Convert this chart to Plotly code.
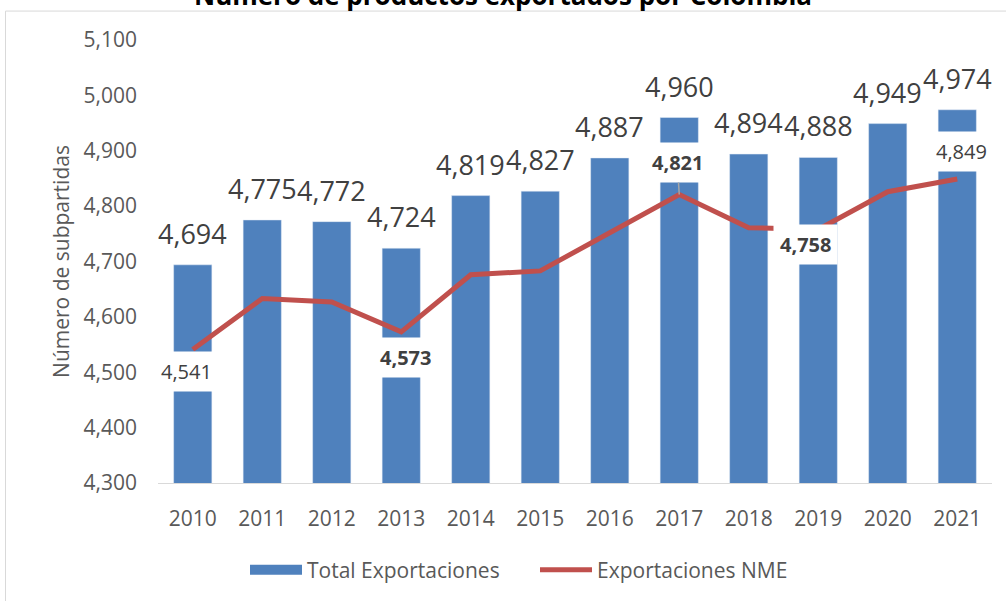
import plotly.graph_objects as go

years = ["2010", "2011", "2012", "2013", "2014", "2015", "2016", "2017", "2018", "2019", "2020", "2021"]
total = [4694, 4775, 4772, 4724, 4819, 4827, 4887, 4960, 4894, 4888, 4949, 4974]
nme = [4541, 4633, 4627, 4573, 4676, 4683, 4752, 4821, 4761, 4758, 4826, 4849]
# which NME points are labelled: (index, bold, vertical offset px, horizontal offset px)
nme_labels = [(0, False, -22, -6), (3, True, -26, 4), (7, True, 32, -2), (9, True, -15, -13), (11, False, 27, 4)]

BLUE = "#4F81BD"
RED = "#C0504D"
FONT = "Open Sans"
GRAY = "#595959"
DARK = "#404040"

fig = go.Figure()
fig.add_trace(go.Bar(x=years, y=total, name="Total Exportaciones", marker_color=BLUE,
                     showlegend=False, legendgroup="t"))
fig.add_trace(go.Scatter(x=[years[0]], y=[None], mode="lines", name="Total Exportaciones",
                         line=dict(color=BLUE, width=14), legendgroup="t"))
fig.add_trace(go.Scatter(x=years, y=nme, mode="lines", name="Exportaciones NME",
                         line=dict(color=RED, width=5)))

annotations = []
# on a category axis, annotation x is given as the category index
for k, v in enumerate(total):
    annotations.append(dict(x=k, y=v, xref="x", yref="y", text=f"{v:,}", showarrow=False,
                            yanchor="bottom", yshift=11,
                            font=dict(family=FONT, size=27, color=DARK)))
for i, bold, dy, dx in nme_labels:
    txt = f"<b>{nme[i]:,}</b>" if bold else f"{nme[i]:,}"
    if i == 7:
        annotations.append(dict(x=i, y=nme[i], xref="x", yref="y", text=txt,
                                showarrow=True, ax=dx, ay=-dy, arrowhead=0, arrowwidth=1.5,
                                arrowcolor="#A6A6A6", bgcolor="white", borderpad=6,
                                font=dict(family=FONT, size=20, color=DARK)))
    else:
        annotations.append(dict(x=i, y=nme[i], xref="x", yref="y", text=txt,
                                showarrow=False, yshift=dy, xshift=dx, bgcolor="white",
                                borderpad=6, font=dict(family=FONT, size=20, color=DARK)))
annotations.append(dict(x=(503 - 158) / 834, y=1.1014, xref="paper", yref="paper",
                        text="<b>Número de productos exportados por Colombia</b>",
                        showarrow=False, yanchor="middle",
                        font=dict(family=FONT, size=26, color="black")))

fig.update_layout(
    width=1006, height=601,
    margin=dict(l=158, r=14, t=40, b=117),
    paper_bgcolor="white", plot_bgcolor="white",
    bargap=0.45,
    font=dict(family=FONT, color=GRAY, size=21),
    annotations=annotations,
    showlegend=True,
    legend=dict(orientation="h", x=(251 - 158 - 6) / 834, xanchor="left", y=-0.194, yanchor="middle",
                font=dict(family=FONT, size=21, color=GRAY), itemwidth=52,
                entrywidth=223, entrywidthmode="pixels",
                bgcolor="rgba(0,0,0,0)"),
    xaxis=dict(type="category", range=[-0.5, 11.5], showgrid=False, showline=True,
               linecolor="#D9D9D9", linewidth=1,
               ticks="", ticklabelstandoff=17, tickfont=dict(family=FONT, size=21, color=GRAY)),
    yaxis=dict(range=[4300, 5100], dtick=100, tickformat=",", showgrid=False,
               zeroline=False, showline=False, ticks="", ticklabelstandoff=20,
               tickfont=dict(family=FONT, size=21, color=GRAY),
               title=dict(text="Número de subpartidas", standoff=8,
                          font=dict(family=FONT, size=21, color=GRAY))),
    shapes=[dict(type="rect", xref="paper", yref="paper",
                 x0=(5.5 - 158) / 834, x1=(1012 - 158) / 834,
                 y0=(484 - 610) / 444, y1=(484 - 11) / 444,
                 line=dict(color="#D9D9D9", width=1), fillcolor="rgba(0,0,0,0)", layer="below")],
)

fig.write_html("out.html", config={"displayModeBar": False},
               post_script="document.body.style.margin='0';")
